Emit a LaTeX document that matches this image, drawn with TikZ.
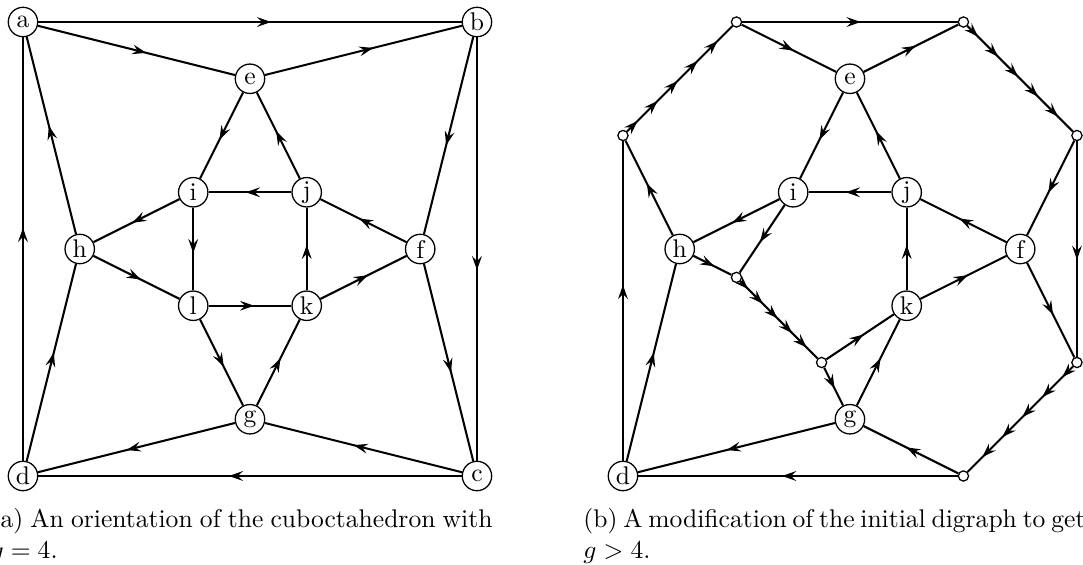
\documentclass[tikz,border=0pt]{standalone}
\usepackage{amsmath, amssymb}
\usepackage{xcolor}
\usetikzlibrary{arrows.meta, decorations.markings}

\begin{document}
\begin{tikzpicture}[x=0.78cm, y=0.78cm,
        vtx/.style={draw, circle, fill=white, line width=0.5pt, minimum size=11.5pt, inner sep=0.5pt},
        dot/.style={draw, circle, fill=white, line width=0.5pt, minimum size=4pt, inner sep=0pt},
        arc/.style={thick, decoration={markings, mark=at position 0.55 with {\arrow{Stealth[length=5.5pt, width=3.8pt, inset=2pt]}}}, postaction={decorate}},
        longarc/.style={thick, decoration={markings, mark=between positions 0.1 and 0.9 step 0.19 with {\arrow{Stealth[length=5.5pt, width=3.8pt, inset=2pt]}}}, postaction={decorate}},
        caption/.style={anchor=base west, inner sep=0pt, text width=196.3pt, align=justify}]
    \useasboundingbox (-0.405, -1.568) rectangle (18.68, 8.388);

    % (a) the cuboctahedron
    \node[vtx] (a) at (0.0, 8.0) {a};
    \node[vtx] (b) at (8.0, 8.0) {b};
    \node[vtx] (c) at (8.0, 0.0) {c};
    \node[vtx] (d) at (0.0, 0.0) {d};
    \node[vtx] (e) at (4.0, 7.0) {e};
    \node[vtx] (f) at (7.0, 4.0) {f};
    \node[vtx] (g) at (4.0, 1.0) {g};
    \node[vtx] (h) at (1.0, 4.0) {h};
    \node[vtx] (i) at (3.0, 5.0) {i};
    \node[vtx] (j) at (5.0, 5.0) {j};
    \node[vtx] (k) at (5.0, 3.0) {k};
    \node[vtx] (l) at (3.0, 3.0) {l};

    \draw[arc] (a) -- (b); % a-b
    \draw[arc] (a) -- (e); % a-e
    \draw[arc] (e) -- (b); % e-b
    \draw[arc] (b) -- (f); % b-f
    \draw[arc] (b) -- (c); % b-c
    \draw[arc] (d) -- (a); % d-a
    \draw[arc] (h) -- (a); % h-a
    \draw[arc] (d) -- (h); % d-h
    \draw[arc] (e) -- (i); % e-i
    \draw[arc] (j) -- (e); % j-e
    \draw[arc] (j) -- (i); % j-i
    \draw[arc] (i) -- (h); % i-h
    \draw[arc] (i) -- (l); % i-l
    \draw[arc] (k) -- (j); % k-j
    \draw[arc] (f) -- (j); % f-j
    \draw[arc] (h) -- (l); % h-l
    \draw[arc] (l) -- (k); % l-k
    \draw[arc] (k) -- (f); % k-f
    \draw[arc] (f) -- (c); % f-c
    \draw[arc] (l) -- (g); % l-g
    \draw[arc] (g) -- (k); % g-k
    \draw[arc] (g) -- (d); % g-d
    \draw[arc] (c) -- (g); % c-g
    \draw[arc] (c) -- (d); % c-d

    \node[caption] (capa) at (-0.58, -0.916) {(a) An orientation of the cuboctahedron with $g = 4$.};

    % (b) the modified digraph
    \begin{scope}[xshift=10.573*0.78cm]
        \node[vtx] (d') at (0.0, 0.0) {d};
        \node[vtx] (e') at (4.0, 7.0) {e};
        \node[vtx] (f') at (7.0, 4.0) {f};
        \node[vtx] (g') at (4.0, 1.0) {g};
        \node[vtx] (h') at (1.0, 4.0) {h};
        \node[vtx] (i') at (3.0, 5.0) {i};
        \node[vtx] (j') at (5.0, 5.0) {j};
        \node[vtx] (k') at (5.0, 3.0) {k};
        \node[dot] (p1) at (0.0, 6.0) {};
        \node[dot] (p2) at (2.0, 8.0) {};
        \node[dot] (p3) at (6.0, 8.0) {};
        \node[dot] (p4) at (8.0, 6.0) {};
        \node[dot] (p5) at (8.0, 2.0) {};
        \node[dot] (p6) at (6.0, 0.0) {};
        \node[dot] (q1) at (2.0, 3.5) {};
        \node[dot] (q2) at (3.5, 2.0) {};

        \draw[arc] (p2) -- (p3); % a-b
        \draw[arc] (p2) -- (e'); % a-e
        \draw[arc] (e') -- (p3); % e-b
        \draw[longarc] (p1) -- (p2); % path into a
        \draw[longarc] (p3) -- (p4); % path out of b
        \draw[arc] (p4) -- (f'); % b-f
        \draw[arc] (p4) -- (p5); % b-c
        \draw[arc] (f') -- (p5); % f-c
        \draw[longarc] (p5) -- (p6); % path into c
        \draw[arc] (p6) -- (d'); % c-d
        \draw[arc] (p6) -- (g'); % c-g
        \draw[arc] (g') -- (d'); % g-d
        \draw[arc] (d') -- (p1); % d-a
        \draw[arc] (d') -- (h'); % d-h
        \draw[arc] (h') -- (p1); % h-a
        \draw[arc] (i') -- (h'); % i-h
        \draw[arc] (e') -- (i'); % e-i
        \draw[arc] (j') -- (e'); % j-e
        \draw[arc] (j') -- (i'); % j-i
        \draw[arc] (k') -- (j'); % k-j
        \draw[arc] (f') -- (j'); % f-j
        \draw[arc] (k') -- (f'); % k-f
        \draw[arc] (i') -- (q1); % i-l
        \draw[arc] (h') -- (q1); % h-l
        \draw[longarc] (q1) -- (q2); % path through l
        \draw[arc] (q2) -- (k'); % l-k
        \draw[arc] (q2) -- (g'); % l-g
        \draw[arc] (g') -- (k'); % g-k

        \node[caption] (capb) at (-0.705, -0.916) {\spaceskip=3.333pt plus 1.666pt minus 2pt\relax
            (b) A modification of the initial digraph to get $g > 4$.};
    \end{scope}
\end{tikzpicture}
\end{document}
